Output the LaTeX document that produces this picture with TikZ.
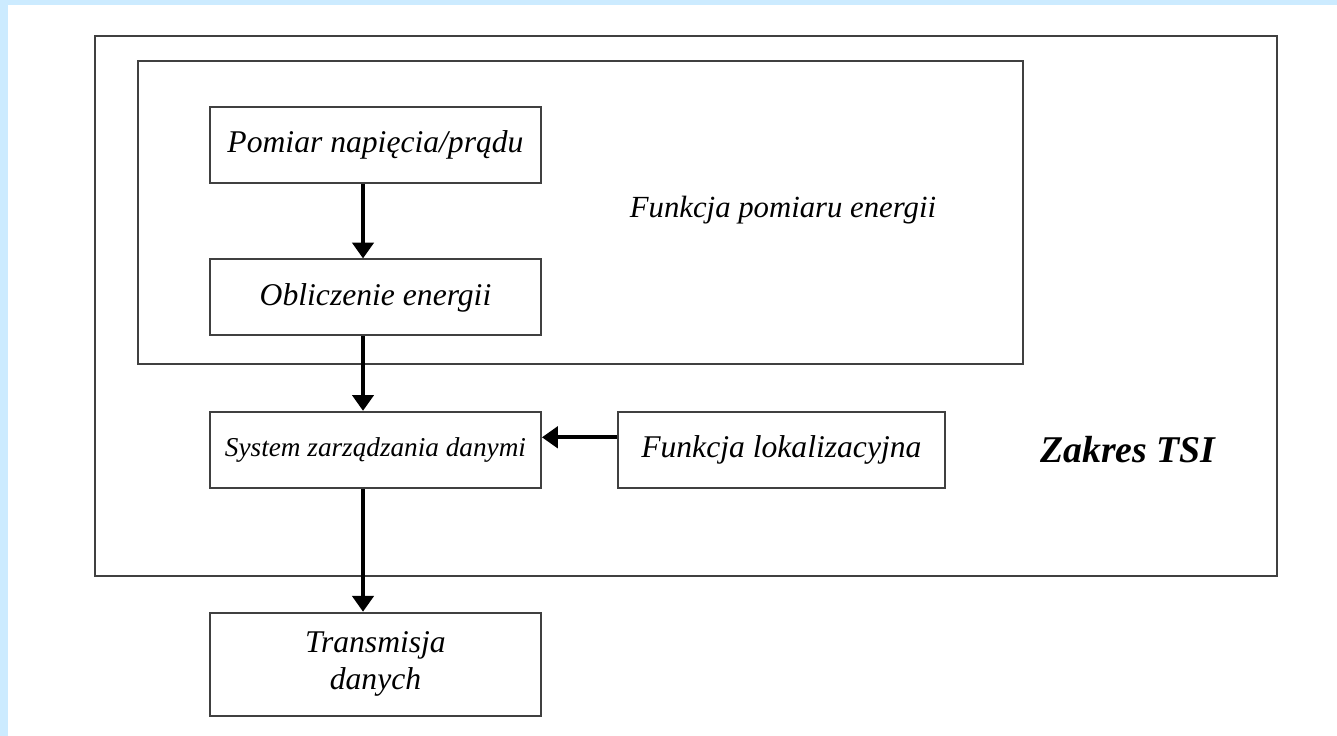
\documentclass[tikz,border=0pt]{standalone}
\usepackage{fontspec}
\setmainfont{Liberation Serif}
\usetikzlibrary{arrows.meta, positioning}
\definecolor{edgeblue}{HTML}{CCEBFF}

\begin{document}
\begin{tikzpicture}[
        x=0.02cm, y=-0.02cm,
        node distance=1.49cm,
        box/.style={rectangle, draw=black!75, line width=1.1pt, minimum width=6.62cm, minimum height=1.52cm, align=center, font=\fontsize{18}{21}\selectfont\itshape},
        frame/.style={draw=black!75, line width=1.1pt},
        flow/.style={line width=2.3pt, -{Triangle[width=12pt, length=9pt]}}
    ]
        % background and margins
        \fill[edgeblue] (0,0) rectangle (1337,736);
        \fill[white] (8,5) rectangle (1337,736);
        \useasboundingbox (0,0) rectangle (1337,736);

        % frames
        \draw[frame] (95,36) rectangle (1277,576);
        \draw[frame] (138,61) rectangle (1023,364);

        \node[box] (pomiar) at (375.5,145) {Pomiar napięcia/prądu};
        \node[box, below=of pomiar] (oblicz) {Obliczenie energii};
        \node[box, below=of oblicz, font=\fontsize{15.5}{18}\selectfont\itshape] (system) {System zarządzania danymi};
        \node[box, right=1.5cm of system, minimum width=6.54cm] (lokal) {Funkcja lokalizacyjna};
        \node[box, below=2.46cm of system, minimum height=2.06cm] (trans) {Transmisja\\danych};

        \node[font=\fontsize{17.5}{20}\selectfont\itshape] (funkcja) at (783,210) {Funkcja pomiaru energii};
        \node[font=\fontsize{21.5}{24}\selectfont\bfseries\itshape] (zakres) at (1128,450) {Zakres TSI};

        \draw[flow] ([xshift=-0.25cm]pomiar.south) -- ([xshift=-0.25cm]oblicz.north);
        \draw[flow] ([xshift=-0.25cm]oblicz.south) -- ([xshift=-0.25cm]system.north);
        \draw[flow] ([xshift=-0.25cm]system.south) -- ([xshift=-0.25cm]trans.north);
        \draw[flow] ([yshift=0.25cm]lokal.west) -- ([yshift=0.25cm]system.east);
    \end{tikzpicture}
\end{document}
